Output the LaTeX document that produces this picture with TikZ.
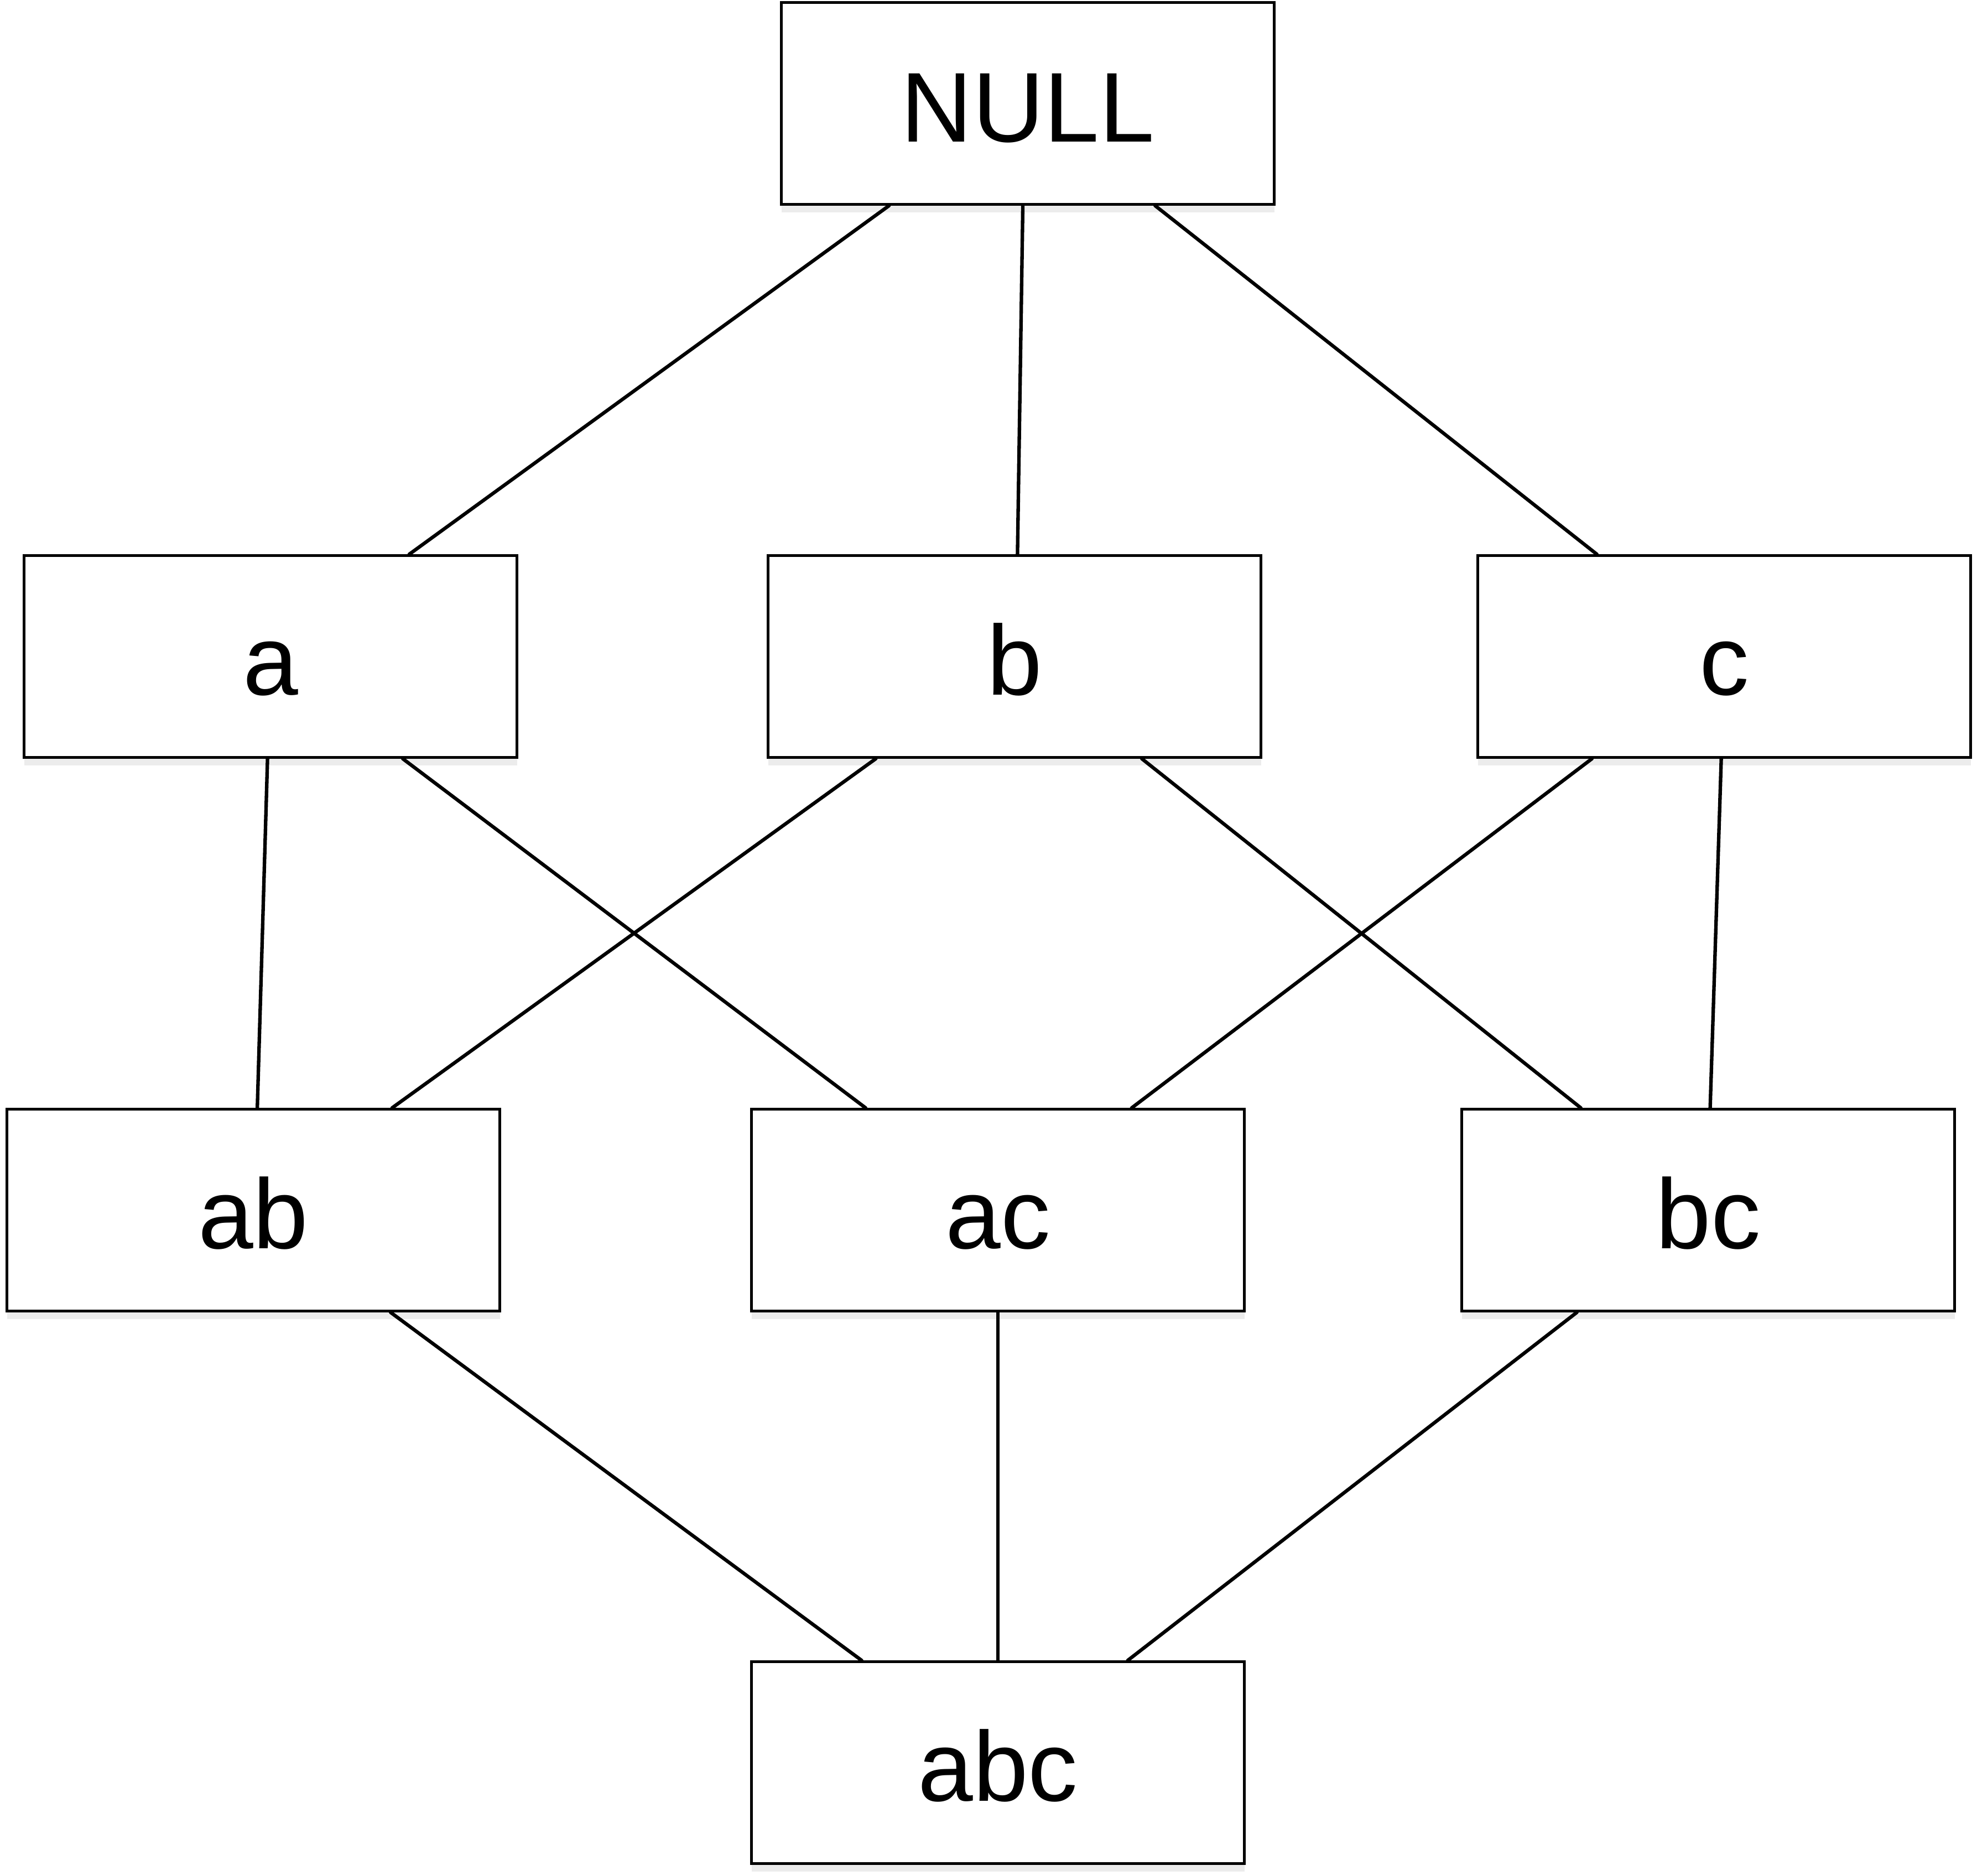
\documentclass[tikz,border=0pt]{standalone}
\usepackage{fontspec}
\setmainfont{Liberation Sans}
\usetikzlibrary{calc, shadows}

\begin{document}
\begin{tikzpicture}[
    box/.style={draw=black, line width=1.3pt, fill=white, minimum width=8.91cm, minimum height=3.65cm, inner sep=0pt,
      text height=1.38cm, text depth=0pt,
      drop shadow={shadow xshift=0pt, shadow yshift=-4pt, opacity=0.15}, font=\fontsize{51}{60}\selectfont},
    link/.style={line width=1.8pt, line cap=round}]
  \useasboundingbox (0,0) rectangle (35.74,-33.91);
  % the lattice, top to bottom
  \node[box] (null) at (18.58,-1.87) {NULL};
  \node[box] (a) at (4.89,-11.87) {a};
  \node[box] (b) at (18.34,-11.87) {b};
  \node[box] (c) at (31.17,-11.87) {c};
  \node[box] (ab) at (4.58,-21.88) {ab};
  \node[box] (ac) at (18.04,-21.88) {ac};
  \node[box] (bc) at (30.88,-21.88) {bc};
  \node[box] (abc) at (18.04,-31.87) {abc};
  % links
  \draw[link] ($(null.south west)!0.22!(null.south east)$) -- ($(a.north west)!0.78!(a.north east)$);
  \draw[link] ($(null.south west)!0.49!(null.south east)$) -- ($(b.north west)!0.506!(b.north east)$);
  \draw[link] ($(null.south west)!0.757!(null.south east)$) -- ($(c.north west)!0.243!(c.north east)$);
  \draw[link] ($(a.south west)!0.494!(a.south east)$) -- ($(ab.north west)!0.508!(ab.north east)$);
  \draw[link] ($(a.south west)!0.767!(a.south east)$) -- ($(ac.north west)!0.233!(ac.north east)$);
  \draw[link] ($(b.south west)!0.22!(b.south east)$) -- ($(ab.north west)!0.78!(ab.north east)$);
  \draw[link] ($(b.south west)!0.757!(b.south east)$) -- ($(bc.north west)!0.243!(bc.north east)$);
  \draw[link] ($(c.south west)!0.233!(c.south east)$) -- ($(ac.north west)!0.77!(ac.north east)$);
  \draw[link] ($(c.south west)!0.494!(c.south east)$) -- ($(bc.north west)!0.504!(bc.north east)$);
  \draw[link] ($(ab.south west)!0.777!(ab.south east)$) -- ($(abc.north west)!0.225!(abc.north east)$);
  \draw[link] ($(ac.south west)!0.5!(ac.south east)$) -- ($(abc.north west)!0.5!(abc.north east)$);
  \draw[link] ($(bc.south west)!0.235!(bc.south east)$) -- ($(abc.north west)!0.762!(abc.north east)$);
\end{tikzpicture}
\end{document}
